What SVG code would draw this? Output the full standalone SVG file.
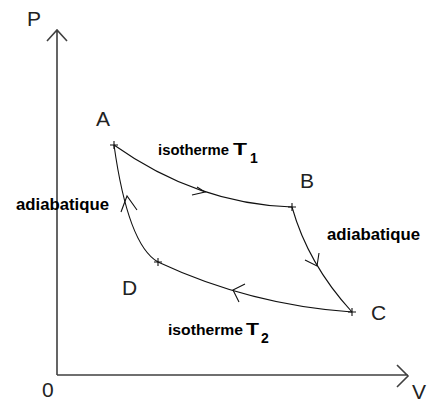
<svg xmlns="http://www.w3.org/2000/svg" width="427" height="403" viewBox="0 0 427 403">
<style>
.ax{stroke:#404040;stroke-width:1.6;fill:none}
.cv{stroke:#111;stroke-width:1.1;fill:none}
.lt{font-family:"Liberation Sans",Arial,sans-serif;font-size:21px;fill:#222}
.lb{font-family:"Liberation Sans",Arial,sans-serif;font-size:17px;font-weight:bold;fill:#000}
.iso{font-size:15.5px}
.ls{font-size:14px}
</style>
<rect width="427" height="403" fill="#fff"/>
<g id="axes">
<path class="ax" d="M57,375 V30 M47,41 L57,30 L67,41"/>
<path class="ax" d="M57,375 H408 M397,365 L408,376 L397,387"/>
<text class="lt" x="27" y="26">P</text>
<text class="lt" x="42" y="397">0</text>
<text class="lt" x="412" y="399">V</text>
</g>
<g id="A">
<path class="cv" d="M110,145 H118 M114,141 V149"/>
<text class="lt" x="96" y="126">A</text>
</g>
<g id="B">
<path class="cv" d="M288,207 H296 M292,203 V211"/>
<text class="lt" x="300" y="188">B</text>
</g>
<g id="C">
<path class="cv" d="M348,312 H356 M352,308 V316"/>
<text class="lt" x="371" y="320">C</text>
</g>
<g id="D">
<path class="cv" d="M154,262 H162 M158,258 V266"/>
<text class="lt" x="122" y="295">D</text>
</g>
<g id="connectors">
<path class="cv" d="M114,145 Q197,204 292,207"/>
<path class="cv" d="M197,187 L205,192 L192,195"/>
<path class="cv" d="M292,207 Q308,264 352,312"/>
<path class="cv" d="M305,260 L317,266 L319,253"/>
<path class="cv" d="M352,312 Q250,305 158,262"/>
<path class="cv" d="M245,284 L233,290 L239,302"/>
<path class="cv" d="M158,262 Q128,245 114,145"/>
<path class="cv" d="M121,212 L127,196 L137,210"/>
</g>
<g id="labels">
<text class="lb" x="158" y="155"><tspan class="iso" textLength="71" lengthAdjust="spacingAndGlyphs">isotherme</tspan><tspan x="233" textLength="14" lengthAdjust="spacingAndGlyphs">T</tspan><tspan class="ls" x="250" y="163">1</tspan></text>
<text class="lb" x="16" y="210" textLength="93" lengthAdjust="spacingAndGlyphs">adiabatique</text>
<text class="lb" x="327" y="240" textLength="93" lengthAdjust="spacingAndGlyphs">adiabatique</text>
<text class="lb" x="168" y="335"><tspan class="iso" textLength="75" lengthAdjust="spacingAndGlyphs">isotherme</tspan><tspan x="246" textLength="13" lengthAdjust="spacingAndGlyphs">T</tspan><tspan class="ls" x="261" y="343">2</tspan></text>
</g>
</svg>
